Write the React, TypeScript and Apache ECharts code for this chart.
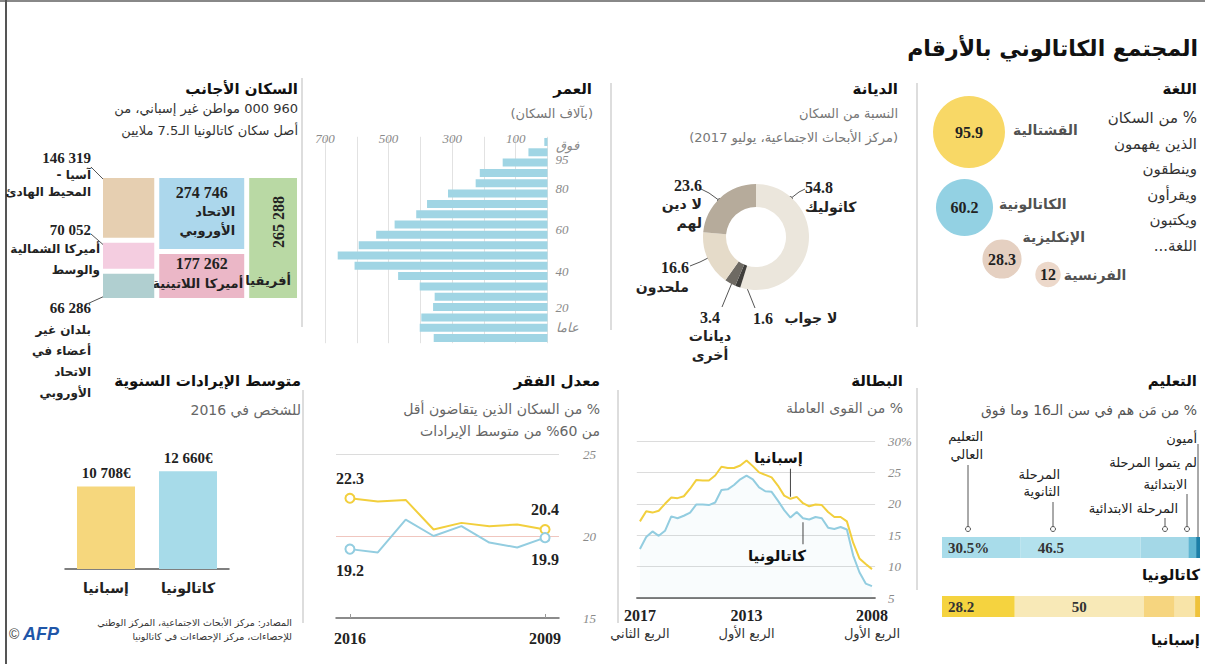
import React, { useEffect, useRef } from 'react';
import * as echarts from 'echarts';

const RLM = '\u200F';
const ar = (s: string) => s.split('\n').map((l) => RLM + l + RLM).join('\n');
const fmt = (v: number) => String(v).replace(/\B(?=(\d{3})+(?!\d))/g, ' ');
const SERIF = "'Liberation Serif', 'DejaVu Serif', serif";
const SANS = "'DejaVu Sans', 'Noto Sans', sans-serif";

// ---------- Language ----------
const languages = ['القشتالية', 'الكاتالونية', 'الإنكليزية', 'الفرنسية'];
const languageValues = [95.9, 60.2, 28.3, 12];

// ---------- Religion ----------
const religionNames = ['كاثوليك', 'لا جواب', 'ديانات\nأخرى', 'ملحدون', 'لا دين\nلهم'];
const religionValues = [54.8, 1.6, 3.4, 16.6, 23.6];

// ---------- Age (thousands) ----------
const ageGroups = ['0-4', '5-9', '10-14', '15-19', '20-24', '25-29', '30-34', '35-39', '40-44', '45-49',
  '50-54', '55-59', '60-64', '65-69', '70-74', '75-79', '80-84', '85-89', '90-94', '95+'];
const agePopulation = [358, 402, 397, 360, 355, 402, 470, 607, 660, 594, 539, 481, 413, 379, 313, 226, 213, 141, 60, 10];
const ageTickLabels: Record<number, string> = { 1: 'عاما', 3: '20', 6: '40', 10: '60', 14: '80', 18: 'فوق\n95' };

// ---------- Foreign population ----------
const foreignRegions = ['أفريقيا', 'الاتحاد\nالأوروبي', 'أميركا اللاتينية', 'آسيا -\nالمحيط الهادئ', 'أميركا الشمالية\nوالوسط', 'بلدان غير\nأعضاء في\nالاتحاد\nالأوروبي'];
const foreignValues = [265288, 274746, 177262, 146319, 70052, 66286];
const foreignColumns = [0, 1, 1, 2, 2, 2];

// ---------- Education (%) ----------
const educationLevels = ['التعليم العالي', 'المرحلة الثانوية', 'المرحلة الابتدائية', 'لم يتموا المرحلة الابتدائية', 'أميون'];
const educationRegions = ['كاتالونيا', 'إسبانيا'];
const educationCatalonia = [30.5, 46.5, 18.5, 3, 1.5];
const educationSpain = [28.2, 50, 12, 7.9, 1.9];

// ---------- Unemployment (%) ----------
const unemploymentQuarters = [
  '2008-1', '2008-2', '2008-3', '2008-4', '2009-1', '2009-2', '2009-3', '2009-4',
  '2010-1', '2010-2', '2010-3', '2010-4', '2011-1', '2011-2', '2011-3', '2011-4',
  '2012-1', '2012-2', '2012-3', '2012-4', '2013-1', '2013-2', '2013-3', '2013-4',
  '2014-1', '2014-2', '2014-3', '2014-4', '2015-1', '2015-2', '2015-3', '2015-4',
  '2016-1', '2016-2', '2016-3', '2016-4', '2017-1', '2017-2'];
const unemploymentSpain = [9.6, 10.4, 11.3, 13.8, 17.2, 17.9, 17.9, 18.7, 19.8, 19.9, 19.6, 20.1,
  21.1, 20.8, 21.3, 22.9, 24.2, 24.6, 25.0, 26.0, 26.9, 26.1, 25.7, 25.7, 25.9, 24.5, 23.7, 23.7,
  23.8, 22.4, 21.2, 20.9, 21.0, 20.0, 18.9, 18.6, 18.8, 17.2];
const unemploymentCatalonia = [6.9, 7.3, 9.1, 11.8, 15.9, 16.3, 16.0, 16.2, 17.7, 17.9, 17.5, 17.7,
  18.7, 17.8, 19.0, 20.5, 21.9, 22.0, 22.6, 23.9, 24.5, 23.9, 23.0, 22.3, 22.2, 20.2, 19.8, 19.9,
  19.9, 18.6, 18.1, 17.7, 18.0, 15.7, 14.9, 15.6, 14.7, 12.8];
const unemploymentTickLabels: Record<string, [string, string]> = {
  '2008-1': ['2008', 'الربع الأول'], '2013-1': ['2013', 'الربع الأول'], '2017-2': ['2017', 'الربع الثاني'],
};

// ---------- Poverty (%) ----------
const povertyYears = ['2009', '2010', '2011', '2012', '2013', '2014', '2015', '2016'];
const povertySpain = [20.4, 20.7, 20.6, 20.8, 20.4, 22.2, 22.1, 22.3];
const povertyCatalonia = [19.9, 19.3, 19.6, 20.6, 20.0, 21.0, 19.0, 19.2];

// ---------- Income (€, 2016) ----------
const incomeRegions = ['إسبانيا', 'كاتالونيا'];
const incomeValues = [10708, 12660];

// ---------- styles / layout ----------
const YELLOW = '#f2cf3d';
const BLUE = '#93cde0';
const languageColors = ['#f8d866', '#93d1e3', '#e5d0c1', '#ecd8ca'];
const languageLayout = [[49, 52], [44.5, 127.5], [82, 179], [128, 194.5]];
const languageNameLabel = [
  { distance: 8, offset: [0, -2] }, { distance: 6, offset: [0, -4] },
  { distance: 1, offset: [0, -22] }, { distance: 3, offset: [0, 0] }];
const religionColors = ['#ebe6dc', '#3f3e3b', '#6e6a63', '#e5dbc9', '#b6ab9b'];
const religionLabelLayout = [
  { x: 805, y: 197, align: 'left', line: [[790, 199], [799, 192], [805, 189]] },
  { x: 753, y: 318, align: 'left', line: [[742, 276], [749, 293], [755, 308]] },
  { x: 710, y: 336, align: 'center', line: [[736, 273], [729, 290], [722, 307]] },
  { x: 689, y: 277, align: 'right', line: [[710, 257], [700, 262], [690, 266]] },
  { x: 702, y: 204, align: 'right', line: [[720, 201], [709, 193], [701, 189]] },
];
const foreignColors = ['#b9d9a4', '#acd7ec', '#ebb7c7', '#e6cfb1', '#f4cde0', '#b0cfd0'];
const eduColorsCat = ['#a8dcea', '#b3e1ed', '#a4d8e7', '#5fb6d2', '#1b7fa8'];
const eduColorsEsp = ['#f5d33f', '#f8e9b7', '#f6d57f', '#f8e4a8', '#efc23a'];

function txt(text: string, x: number, y: number, o: any = {}) {
  const align = o.align ?? 'right';
  return {
    type: 'text', x, y, silent: true,
    style: {
      text: o.raw ? text : ar(text), fill: o.fill ?? '#222', fontSize: o.size ?? 13,
      fontWeight: o.weight ?? 'normal', fontFamily: o.family ?? SANS, fontStyle: o.fstyle ?? 'normal',
      align, textAlign: align, verticalAlign: 'middle', textVerticalAlign: 'middle', lineHeight: o.lh,
    },
  };
}
const ln = (x1: number, y1: number, x2: number, y2: number, stroke = '#555', w = 1) => ({
  type: 'line', silent: true, shape: { x1, y1, x2, y2 }, style: { stroke, lineWidth: w },
});
const dot = (cx: number, cy: number) => ({
  type: 'circle', silent: true, shape: { cx, cy, r: 2.5 }, style: { fill: '#fff', stroke: '#555', lineWidth: 1 },
});

function buildOption() {
  // foreign treemap-like layout computed from values
  const colSums = [0, 0, 0];
  foreignValues.forEach((v, i) => { colSums[foreignColumns[i]] += v; });
  const colStart = [0, colSums[0], colSums[0] + colSums[1]];
  const foreignTotal = colSums[0] + colSums[1] + colSums[2];
  const acc = [0, 0, 0];
  const foreignRows = foreignValues.map((v, i) => {
    const c = foreignColumns[i];
    const y0 = acc[c] / colSums[c];
    acc[c] += v;
    return [colStart[c], colStart[c] + colSums[c], y0, acc[c] / colSums[c], v];
  });

  const boldNum = { fontFamily: SERIF, fontWeight: 'bold', color: '#222' };
  const axisGrayItalic = { fontFamily: SERIF, fontStyle: 'italic', color: '#8a8a8a', fontSize: 13 };

  const eduSeries = educationLevels.map((lvl, k) => ({
    type: 'bar', name: lvl, stack: 'edu', xAxisIndex: 4, yAxisIndex: 4, barWidth: 21,
    data: [
      { value: educationCatalonia[k], itemStyle: { color: eduColorsCat[k] },
        label: k === 1 ? { show: true, position: 'insideLeft', distance: 17 } : undefined },
      { value: educationSpain[k], itemStyle: { color: eduColorsEsp[k] },
        label: k === 1 ? { show: true, position: 'inside' } : undefined },
    ],
    label: {
      show: k === 0, position: 'insideLeft', distance: 6, ...boldNum, fontSize: 15, color: '#333',
      formatter: (p: any) => (k === 0 && p.dataIndex === 0 ? p.value + '%' : String(p.value)),
    },
  }));

  const graphicEls: any[] = [
    // frame
    ln(0, 1, 1205, 1, '#888', 2),
    ln(6, 0, 6, 664, '#555', 2),
    // dividers
    ln(917, 83, 917, 327, '#bbb'), ln(917, 388, 917, 590, '#bbb'),
    ln(611, 83, 611, 330, '#bbb'), ln(618, 390, 618, 623, '#bbb'),
    ln(302, 78, 302, 327, '#bbb'), ln(303, 390, 303, 623, '#bbb'),
    // title
    txt('المجتمع الكاتالوني بالأرقام', 1198, 48, { size: 22, weight: 'bold', fill: '#111' }),
    // headers
    txt('اللغة', 1197, 89, { size: 15, weight: 'bold', fill: '#111' }),
    txt('الديانة', 898, 89, { size: 15, weight: 'bold', fill: '#111' }),
    txt('العمر', 592, 89, { size: 15, weight: 'bold', fill: '#111' }),
    txt('السكان الأجانب', 298, 89, { size: 15, weight: 'bold', fill: '#111' }),
    txt('التعليم', 1197, 381, { size: 15, weight: 'bold', fill: '#111' }),
    txt('البطالة', 903, 381, { size: 15, weight: 'bold', fill: '#111' }),
    txt('معدل الفقر', 600, 381, { size: 15, weight: 'bold', fill: '#111' }),
    txt('متوسط الإيرادات السنوية', 301, 381, { size: 15, weight: 'bold', fill: '#111' }),
    // language subtitle
    ...['% من السكان', 'الذين يفهمون', 'وينطقون', 'ويقرأون', 'ويكتبون', 'اللغة...'].map((s, i) =>
      txt(s, 1197, 118 + i * 25.6, { size: 15, fill: '#333' })),
    // religion subtitle
    txt('النسبة من السكان', 898, 113, { size: 13, fill: '#777' }),
    txt('(مركز الأبحاث الاجتماعية، يوليو 2017)', 898, 137, { size: 13, fill: '#777' }),
    // age subtitle
    txt('(بآلاف السكان)', 593, 113, { size: 13, fill: '#777' }),
    // foreign subtitle
    txt('960 000 مواطن غير إسباني، من', 298, 108, { size: 13, fill: '#333' }),
    txt('أصل سكان كاتالونيا الـ7.5 ملايين', 298, 130, { size: 13, fill: '#333' }),
    // bottom subtitles
    txt('% من مَن هم في سن الـ16 وما فوق', 1197, 410, { size: 14, fill: '#555' }),
    txt('% من القوى العاملة', 903, 408, { size: 14, fill: '#666' }),
    txt('% من السكان الذين يتقاضون أقل', 600, 409, { size: 14, fill: '#666' }),
    txt('من 60% من متوسط الإيرادات', 600, 431, { size: 14, fill: '#666' }),
    txt('للشخص في 2016', 301, 410, { size: 14, fill: '#666' }),
    // religion markers
    dot(790, 199), dot(720, 201), dot(710, 257),
    // foreign outside labels
    txt(fmt(foreignValues[3]), 91, 158, { raw: true, size: 15, weight: 'bold', family: SERIF }),
    txt(foreignRegions[3], 91, 183, { size: 12, weight: 'bold', lh: 17 }),
    txt(fmt(foreignValues[4]), 91, 230, { raw: true, size: 15, weight: 'bold', family: SERIF }),
    txt(foreignRegions[4], 100, 259, { size: 12, weight: 'bold', lh: 21 }),
    txt(fmt(foreignValues[5]), 91, 308, { raw: true, size: 15, weight: 'bold', family: SERIF }),
    txt(foreignRegions[5], 91, 361, { size: 12, weight: 'bold', lh: 21 }),
    ln(91, 167, 107, 183), dot(107, 183),
    ln(91, 234, 107, 248), dot(107, 248),
    ln(87, 304, 107, 295), dot(107, 295),
    // education annotations
    txt('أميون', 1197, 438, { size: 13 }),
    txt('لم يتموا المرحلة', 1197, 462, { size: 13 }),
    txt('الابتدائية', 1187, 484, { size: 13 }),
    txt('المرحلة الابتدائية', 1178, 508, { size: 13 }),
    txt('المرحلة\nالثانوية', 1060, 483, { size: 13, lh: 17 }),
    txt('التعليم\nالعالي', 983, 445, { size: 13, lh: 18 }),
    ln(968, 465, 968, 529), dot(968, 529),
    ln(1053, 502, 1053, 529), dot(1053, 529),
    ln(1165, 518, 1165, 529), dot(1165, 529),
    ln(1187, 494, 1187, 529), dot(1187, 529),
    ln(1198, 444, 1198, 537),
    txt(educationRegions[0], 1200, 575, { size: 15, weight: 'bold', fill: '#111' }),
    txt(educationRegions[1], 1200, 640, { size: 15, weight: 'bold', fill: '#111' }),
    // source + logo
    txt('المصادر: مركز الأبحاث الاجتماعية، المركز الوطني', 292, 622, { size: 9.5, fill: '#333' }),
    txt('للإحصاءات، مركز الإحصاءات في كاتالونيا', 292, 636, { size: 9.5, fill: '#333' }),
    txt('©', 9, 634, { raw: true, align: 'left', size: 14, fill: '#444', family: "'Liberation Sans', sans-serif" }),
    txt('AFP', 23, 634, { raw: true, align: 'left', size: 18, weight: 'bold', fstyle: 'italic', fill: '#1f56a8', family: "'Liberation Sans', sans-serif" }),
  ];

  return {
    animation: false,
    backgroundColor: '#ffffff',
    textStyle: { fontFamily: SANS },
    grid: [
      { left: 325, top: 136.8, width: 222.5, height: 206.4, outerBoundsMode: 'none' }, // age
      { left: 636.8, top: 441, width: 238.3, height: 157, outerBoundsMode: 'none' }, // unemployment
      { left: 336, top: 454, width: 223, height: 164, outerBoundsMode: 'none' }, // poverty
      { left: 65, top: 461, width: 164, height: 108, outerBoundsMode: 'none' }, // income
      { left: 942, top: 518, width: 258, height: 118, outerBoundsMode: 'none' }, // education
      { left: 100.5, top: 175.5, width: 199, height: 125, outerBoundsMode: 'none' }, // foreign
      { left: 920, top: 80, width: 285, height: 220, outerBoundsMode: 'none' }, // language
    ],
    xAxis: [
      { type: 'value', gridIndex: 0, inverse: true, min: 0, max: 700, interval: 100, position: 'top',
        axisLine: { show: false }, axisTick: { show: false },
        splitLine: { lineStyle: { color: '#e2e2e2' } },
        axisLabel: { ...axisGrayItalic, margin: -8, formatter: (v: number) => ((v / 100) % 2 === 1 ? String(v) : '') } },
      { type: 'category', gridIndex: 1, data: unemploymentQuarters, inverse: true, boundaryGap: true,
        axisLine: { lineStyle: { color: '#555', width: 1.5 } }, axisTick: { show: false },
        axisLabel: {
          interval: (_i: number, v: string) => v in unemploymentTickLabels, margin: 8,
          formatter: (v: string) => { const t = unemploymentTickLabels[v]; return t ? `{y|${t[0]}}\n{q|${ar(t[1])}}` : ''; },
          rich: { y: { ...boldNum, fontSize: 16, lineHeight: 18 }, q: { fontFamily: SANS, fontSize: 13, color: '#333', lineHeight: 18 } },
        } },
      { type: 'category', gridIndex: 2, data: povertyYears, inverse: true, boundaryGap: true,
        axisLine: { lineStyle: { color: '#666', width: 1.5 } },
        axisTick: { show: true, inside: true, alignWithLabel: true, length: 4, lineStyle: { color: '#999' } },
        axisLabel: { interval: (i: number) => i === 0 || i === povertyYears.length - 1, ...boldNum, fontSize: 16, margin: 12 } },
      { type: 'category', gridIndex: 3, data: incomeRegions,
        axisLine: { lineStyle: { color: '#555', width: 1.5 } }, axisTick: { show: false },
        axisLabel: { fontFamily: SANS, fontWeight: 'bold', fontSize: 14, color: '#222', margin: 12, formatter: (v: string) => ar(v) } },
      { type: 'value', gridIndex: 4, min: 0, max: 100, show: false },
      { type: 'value', gridIndex: 5, min: 0, max: foreignTotal, inverse: true, show: false },
      { type: 'value', gridIndex: 6, min: 0, max: 285, show: false },
    ],
    yAxis: [
      { type: 'category', gridIndex: 0, data: ageGroups, position: 'right',
        axisLine: { show: false }, axisTick: { show: false },
        axisLabel: {
          interval: 0, margin: 8, align: 'left',
          formatter: (_v: string, i: number) => {
            const t = ageTickLabels[i];
            if (!t) return '';
            if (i === 6 || i === 10 || i === 14) return `{up|${t}}`;
            return `{n|${ar(t)}}`;
          },
          rich: { up: { ...axisGrayItalic, padding: [0, 0, 10, 0] }, n: { ...axisGrayItalic, lineHeight: 14 } },
        } },
      { type: 'value', gridIndex: 1, min: 5, max: 30, interval: 5, position: 'right',
        axisLine: { show: false }, axisTick: { show: false },
        splitLine: { lineStyle: { color: '#dcdcdc' } },
        axisLabel: { ...axisGrayItalic, margin: 13, align: 'left', formatter: (v: number) => (v === 30 ? '30%' : String(v)) } },
      { type: 'value', gridIndex: 2, min: 15, max: 25, interval: 5, position: 'right',
        axisLine: { show: false }, axisTick: { show: false },
        splitLine: { lineStyle: { color: ['rgba(0,0,0,0)', '#f0c6bf', '#dcdcdc'] } },
        axisLabel: { ...axisGrayItalic, margin: 24, align: 'left' } },
      { type: 'value', gridIndex: 3, min: 0, max: 14000, show: false },
      { type: 'category', gridIndex: 4, data: educationRegions, inverse: true, show: false },
      { type: 'value', gridIndex: 5, min: 0, max: 1, inverse: true, show: false },
      { type: 'value', gridIndex: 6, min: 0, max: 220, inverse: true, show: false },
    ],
    series: [
      // age pyramid
      { type: 'bar', xAxisIndex: 0, yAxisIndex: 0, data: agePopulation, barWidth: 8,
        itemStyle: { color: '#a0d5e4' } },
      // unemployment
      { type: 'line', name: 'إسبانيا', xAxisIndex: 1, yAxisIndex: 1, data: unemploymentSpain, showSymbol: false,
        lineStyle: { color: YELLOW, width: 2 }, itemStyle: { color: YELLOW }, z: 3,
        markPoint: { symbol: 'rect', symbolSize: [1, 28], symbolOffset: [0, -16], itemStyle: { color: '#444' },
          label: { show: true, position: 'top', distance: 3, offset: [-12, 0], formatter: ar('إسبانيا'),
            fontFamily: SANS, fontWeight: 'bold', fontSize: 15, color: '#111' },
          data: [{ coord: ['2011-2', 20.8] }] } },
      { type: 'line', name: 'كاتالونيا', xAxisIndex: 1, yAxisIndex: 1, data: unemploymentCatalonia, showSymbol: false,
        lineStyle: { color: BLUE, width: 2 }, itemStyle: { color: BLUE },
        areaStyle: { color: 'rgba(150,205,225,0.08)' },
        markPoint: { symbol: 'rect', symbolSize: [1, 22], symbolOffset: [0, 15], itemStyle: { color: '#444' },
          label: { show: true, position: 'bottom', distance: 4, offset: [-26, 0], formatter: ar('كاتالونيا'),
            fontFamily: SANS, fontWeight: 'bold', fontSize: 15, color: '#111' },
          data: [{ coord: ['2010-4', 17.7] }] } },
      // poverty
      { type: 'line', xAxisIndex: 2, yAxisIndex: 2, lineStyle: { color: YELLOW, width: 2 }, itemStyle: { color: YELLOW },
        showAllSymbol: true, symbolSize: 9,
        data: povertySpain.map((v, i) => ({ value: v, symbol: i === 0 || i === povertySpain.length - 1 ? 'emptyCircle' : 'none' })),
        label: { show: true, position: 'top', distance: 6, ...boldNum, fontSize: 16,
          formatter: (p: any) => (p.dataIndex === 0 || p.dataIndex === povertySpain.length - 1 ? String(p.value) : '') } },
      { type: 'line', xAxisIndex: 2, yAxisIndex: 2, lineStyle: { color: BLUE, width: 2 }, itemStyle: { color: BLUE },
        showAllSymbol: true, symbolSize: 9,
        data: povertyCatalonia.map((v, i) => ({ value: v, symbol: i === 0 || i === povertyCatalonia.length - 1 ? 'emptyCircle' : 'none' })),
        label: { show: true, position: 'bottom', distance: 8, ...boldNum, fontSize: 16,
          formatter: (p: any) => (p.dataIndex === 0 || p.dataIndex === povertyCatalonia.length - 1 ? String(p.value) : '') } },
      // income
      { type: 'bar', xAxisIndex: 3, yAxisIndex: 3, barWidth: 58,
        data: incomeValues.map((v, i) => ({ value: v, itemStyle: { color: i === 0 ? '#f6d77d' : '#a7dbe9' } })),
        label: { show: true, position: 'top', distance: 6, ...boldNum, fontSize: 15, formatter: (p: any) => fmt(p.value) + '€' } },
      // education
      ...eduSeries,
      // foreign population (treemap-like)
      { type: 'custom', xAxisIndex: 5, yAxisIndex: 5, data: foreignRows, encode: { x: [0, 1], y: [2, 3] },
        renderItem: (params: any, api: any) => {
          const a = api.coord([api.value(0), api.value(2)]);
          const b = api.coord([api.value(1), api.value(3)]);
          const g = 2.5;
          const x = Math.min(a[0], b[0]) + g;
          const y = Math.min(a[1], b[1]) + g;
          const w = Math.abs(b[0] - a[0]) - 2 * g;
          const h = Math.abs(b[1] - a[1]) - 2 * g;
          const i = params.dataIndex;
          const t = (text: string, tx: number, ty: number, size: number, fam: string, extra: any = {}) => ({
            type: 'text', x: tx, y: ty, ...extra,
            style: { text, fill: '#222', fontSize: size, fontFamily: fam, fontWeight: 'bold',
              align: extra.align ?? 'center', textAlign: extra.align ?? 'center', verticalAlign: 'middle', textVerticalAlign: 'middle', lineHeight: 19 },
          });
          const children: any[] = [{ type: 'rect', shape: { x, y, width: w, height: h }, style: { fill: foreignColors[i] } }];
          const num = fmt(foreignValues[i]);
          if (i === 0) {
            children.push(t(num, x + w / 2 + 5, y + 44, 16, SERIF, { rotation: Math.PI / 2 }));
            children.push(t(ar(foreignRegions[0]), x + w / 2 - 5, y + h - 18, 13, SANS));
          } else if (i === 1) {
            children.push(t(num, x + w / 2, y + 14, 16, SERIF));
            children.push(t(ar(foreignRegions[1]), x + w - 9, y + 43, 13, SANS, { align: 'right' }));
          } else if (i === 2) {
            children.push(t(num, x + w / 2, y + 10, 16, SERIF));
            children.push(t(ar(foreignRegions[2]), x + w / 2 - 4, y + 30, 13, SANS));
          }
          return { type: 'group', children };
        } },
      // language bubbles
      { type: 'scatter', xAxisIndex: 6, yAxisIndex: 6,
        data: languageLayout.map((p, i) => ({ value: [p[0], p[1], languageValues[i]], itemStyle: { color: languageColors[i], opacity: 1 } })),
        symbolSize: (val: number[]) => 7.35 * Math.sqrt(val[2]),
        label: { show: true, position: 'inside', ...boldNum, fontSize: 16, formatter: (p: any) => String(p.value[2]) } },
      { type: 'scatter', xAxisIndex: 6, yAxisIndex: 6,
        data: languageLayout.map((p, i) => ({ value: [p[0], p[1], languageValues[i]], name: languages[i],
          label: { distance: languageNameLabel[i].distance, offset: languageNameLabel[i].offset } })),
        symbolSize: (val: number[]) => 7.35 * Math.sqrt(val[2]),
        itemStyle: { color: 'rgba(0,0,0,0)' },
        label: { show: true, position: 'right', fontFamily: SANS, fontWeight: 'bold', fontSize: 14, color: '#222',
          formatter: (p: any) => ar(p.name) } },
      // religion donut
      { type: 'pie', center: [756, 237], radius: [30, 53], startAngle: 90, avoidLabelOverlap: false,
        data: religionNames.map((n, i) => ({ name: n, value: religionValues[i], itemStyle: { color: religionColors[i] } })),
        label: {
          show: true, position: 'outside', color: '#222',
          formatter: (p: any) => (p.dataIndex === 1
            ? `{v|${p.value}}   {n|${ar(p.name)}}`
            : `{v|${p.value}}\n{n|${ar(p.name)}}`),
          rich: { v: { ...boldNum, fontSize: 16, lineHeight: 19 }, n: { fontFamily: SANS, fontWeight: 'bold', fontSize: 14, color: '#222', lineHeight: 19 } },
        },
        labelLine: { show: true, length: 6, length2: 6, lineStyle: { color: '#555', width: 1 } },
        labelLayout: (params: any) => {
          const L = religionLabelLayout[params.dataIndex];
          return { x: L.x, y: L.y, align: L.align, verticalAlign: 'middle', labelLinePoints: L.line };
        } },
    ],
    graphic: { elements: graphicEls },
  };
}

export default function App() {
  const ref = useRef<HTMLDivElement>(null);
  useEffect(() => {
    document.body.style.margin = '0';
    const chart = echarts.init(ref.current!, null, { renderer: 'svg' });
    chart.setOption(buildOption() as any);
    return () => chart.dispose();
  }, []);
  return <div ref={ref} style={{ width: 1205, height: 664, background: '#fff' }} />;
}
